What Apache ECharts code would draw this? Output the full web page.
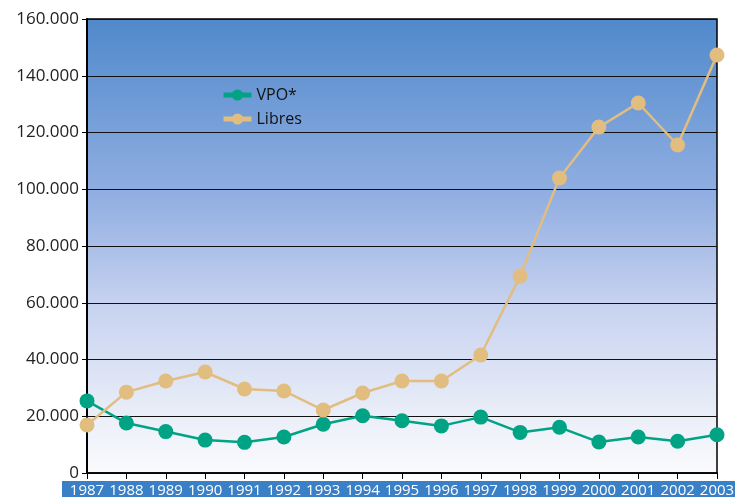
<!DOCTYPE html>
<html><head><meta charset="utf-8">
<script src="https://cdn.jsdelivr.net/npm/echarts@6/dist/echarts.min.js"></script>
<style>html,body{margin:0;padding:0;background:#fff}#c{width:735px;height:497px}</style>
</head><body><div id="c"></div>
<script>
var years = ['1987','1988','1989','1990','1991','1992','1993','1994','1995','1996','1997','1998','1999','2000','2001','2002','2003'];
var vpo = [25400,17600,14600,11600,10800,12700,17200,20200,18400,16600,19700,14300,16100,10900,12700,11200,13500];
var libres = [16900,28500,32400,35600,29600,28900,22200,28200,32400,32400,41600,69400,104000,121900,130400,115600,147300];
var yTicks = [0,20000,40000,60000,80000,100000,120000,140000,160000];

var chart = echarts.init(document.getElementById('c'));
function fmt(v){ return v===0 ? '0' : String(v).replace(/\B(?=(\d{3})+(?!\d))/g,'.'); }
chart.setOption({
  animation:false,
  graphic:[{type:'rect', z:-1, shape:{x:62,y:481,width:673,height:16}, style:{fill:'#3a80c6'}}],
  grid:{left:87,right:18,top:19,bottom:24, show:true, borderColor:'#000', borderWidth:1.5,
    outerBoundsMode:'none', containLabel:false,
    backgroundColor:{type:'linear',x:0,y:0,x2:0,y2:1,colorStops:[
      {offset:0,color:'#5089cc'},{offset:0.4,color:'#93b0e2'},{offset:0.62,color:'#c5d1ef'},
      {offset:0.9,color:'#eef1f9'},{offset:1,color:'#fafbfd'}]}},
  legend:{orient:'vertical', left:216, top:82, itemWidth:28, itemHeight:14, itemGap:8,
    lineStyle:{width:5},
    textStyle:{fontSize:16, color:'#111', fontFamily:'Open Sans'},
    data:['VPO*','Libres']},
  xAxis:{type:'category', data:years, boundaryGap:false,
    axisLine:{lineStyle:{color:'#000',width:1.5}},
    axisTick:{show:true, length:6, lineStyle:{color:'#000'}},
    axisLabel:{color:'#fff', fontSize:15, margin:10, interval:0, fontFamily:'Open Sans'},
    splitLine:{show:false}},
  yAxis:{type:'value', min:0, max:160000, interval:20000,
    axisLine:{show:true, lineStyle:{color:'#000',width:2}},
    axisTick:{show:true, length:5, lineStyle:{color:'#000'}},
    axisLabel:{color:'#222', fontSize:17, margin:8, fontFamily:'Open Sans', formatter:fmt},
    splitLine:{show:true, lineStyle:{color:'#111', width:1}}},
  series:[
    {name:'VPO*', type:'line', data:vpo, symbol:'circle', symbolSize:15,
      itemStyle:{color:'#00a384'}, lineStyle:{color:'#00a384', width:2.5}},
    {name:'Libres', type:'line', data:libres, symbol:'circle', symbolSize:15,
      itemStyle:{color:'#e1bd80'}, lineStyle:{color:'#e1bd80', width:2.5}}
  ]
});
</script></body></html>
